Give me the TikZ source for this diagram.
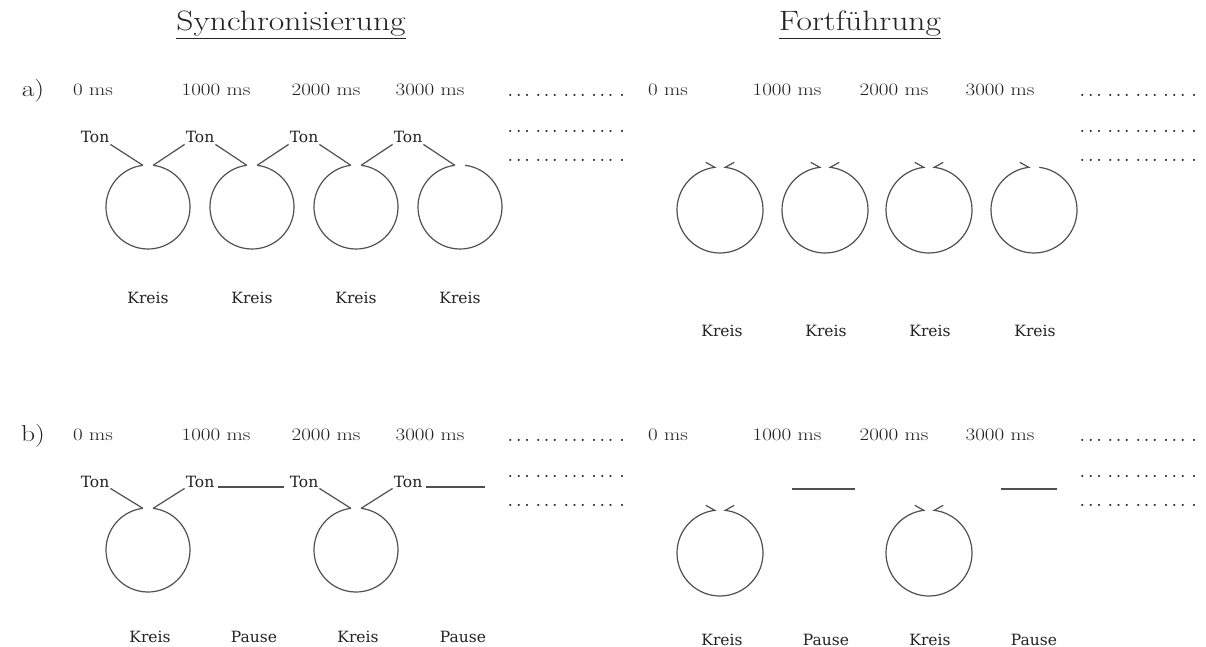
\documentclass[tikz,border=0pt]{standalone}
\usepackage{fontspec}
\usepackage{graphicx}
\newfontfamily\slab{DejaVu Serif}
\definecolor{txt}{HTML}{222222}
\definecolor{lin}{HTML}{505050}
\newcommand\wide[1]{\scalebox{1.2}[1]{#1}}
\newcommand\dg{.\kern1.8pt.\kern1.8pt.\kern4.8pt}
\newcommand\dotrow{\dg\dg\dg\dg.}
\begin{document}
\begin{tikzpicture}[x=1pt,y=-1pt,
  lbl/.style={anchor=base, inner sep=1pt, text=txt},
  ttl/.style={lbl, font=\fontsize{28}{28}\selectfont},
  abc/.style={lbl, font=\fontsize{23}{23}\selectfont},
  ms/.style={lbl, font=\fontsize{17.5}{17.5}\selectfont},
  sl/.style={lbl, font=\slab\fontsize{15.5}{15.5}\selectfont},
  dts/.style={anchor=base west, inner sep=0pt, text=txt, font=\fontsize{26}{26}\selectfont},
  ln/.style={draw=lin, line width=1.2pt},
  bar/.style={draw=lin, line width=2.8pt}]
\useasboundingbox (0,0) rectangle (1206,647);

% titles
\node[ttl] (tsync) at (291,31) {\wide{\underline{Synchronisierung}}};
\node[ttl] (tfort) at (860,31) {\wide{\underline{Fortführung}}};

% row labels
\node[abc] (la) at (33,97) {\wide{a)}};
\node[abc] (lb) at (33,441) {\wide{b)}};

% time labels
\foreach \r/\y in {a/96,b/440}{
  \node[ms] (\r s0) at (93,\y) {\wide{0 ms}};
  \node[ms] (\r s1) at (216,\y) {\wide{1000 ms}};
  \node[ms] (\r s2) at (326,\y) {\wide{2000 ms}};
  \node[ms] (\r s3) at (430,\y) {\wide{3000 ms}};
  \node[ms] (\r f0) at (668,\y) {\wide{0 ms}};
  \node[ms] (\r f1) at (787,\y) {\wide{1000 ms}};
  \node[ms] (\r f2) at (894,\y) {\wide{2000 ms}};
  \node[ms] (\r f3) at (1000,\y) {\wide{3000 ms}};
}

% dotted rows
\foreach \r/\ya/\yb/\yc in {a/97/133/162,b/441/477/506}{
  \node[dts] (\r d1) at (507,\ya) {\dotrow};
  \node[dts] (\r d2) at (507,\yb) {\dotrow};
  \node[dts] (\r d3) at (507,\yc) {\dotrow};
  \node[dts] (\r e1) at (1079,\ya) {\dotrow};
  \node[dts] (\r e2) at (1079,\yb) {\dotrow};
  \node[dts] (\r e3) at (1079,\yc) {\dotrow};
}

% ===== a) Synchronisierung =====
\foreach \i/\x in {1/95,2/200,3/304,4/408}{
  \node[sl] (aton\i) at (\x,143) {Ton};
}
\foreach \i/\cx in {1/148,2/252,3/356,4/460}{
  \draw[ln] (\cx,207) ++(-83:42) coordinate (aR\i)
     arc[start angle=-83, end angle=263, radius=42] coordinate (aL\i);
  \node[sl] (ak\i) at (\cx,303) {Kreis};
}
\foreach \i in {1,2,3,4}{ \draw[ln] (aton\i.south east) -- (aL\i); }
\foreach \i/\j in {1/2,2/3,3/4}{ \draw[ln] (aR\i) -- (aton\j.south west); }

% ===== a) Fortführung =====
\foreach \i/\cx in {1/720,2/825,3/929}{
  \draw[ln] (\cx,210) ++(-97:43) ++(-9,-5) -- ++(9,5)
     arc[start angle=-97, end angle=-443, radius=43] -- ++(9,-5);
}
\draw[ln] (1034,210) ++(-97:43) ++(-9,-5) -- ++(9,5)
     arc[start angle=-97, end angle=-443, radius=43];
\foreach \i/\cx in {1/722,2/826,3/930,4/1035}{
  \node[sl] (afk\i) at (\cx,336) {Kreis};
}

% ===== b) Synchronisierung =====
\foreach \i/\x in {1/95,2/200,3/304,4/408}{
  \node[sl] (bton\i) at (\x,487) {Ton};
}
\foreach \i/\cx in {1/148,2/356}{
  \draw[ln] (\cx,550) ++(-83:42) coordinate (bR\i)
     arc[start angle=-83, end angle=263, radius=42] coordinate (bL\i);
}
\draw[ln] (bton1.south east) -- (bL1);
\draw[ln] (bR1) -- (bton2.south west);
\draw[ln] (bton3.south east) -- (bL2);
\draw[ln] (bR2) -- (bton4.south west);
\coordinate (bb1) at (284,487);
\coordinate (bb2) at (485,487);
\draw[bar] (bton2.base east) ++(3,0) -- (bb1);
\draw[bar] (bton4.base east) ++(3,0) -- (bb2);
\node[sl] (bk1) at (150,642) {Kreis};
\node[sl] (bp1) at (254,642) {Pause};
\node[sl] (bk2) at (358,642) {Kreis};
\node[sl] (bp2) at (463,642) {Pause};

% ===== b) Fortführung =====
\foreach \cx in {720,929}{
  \draw[ln] (\cx,553) ++(-97:43) ++(-9,-5) -- ++(9,5)
     arc[start angle=-97, end angle=-443, radius=43] -- ++(9,-5);
}
\draw[bar] (792,489) -- (855,489);
\draw[bar] (1001,489) -- (1057,489);
\node[sl] (bfk1) at (722,645) {Kreis};
\node[sl] (bfp1) at (826,645) {Pause};
\node[sl] (bfk2) at (930,645) {Kreis};
\node[sl] (bfp2) at (1034,645) {Pause};
\end{tikzpicture}
\end{document}
